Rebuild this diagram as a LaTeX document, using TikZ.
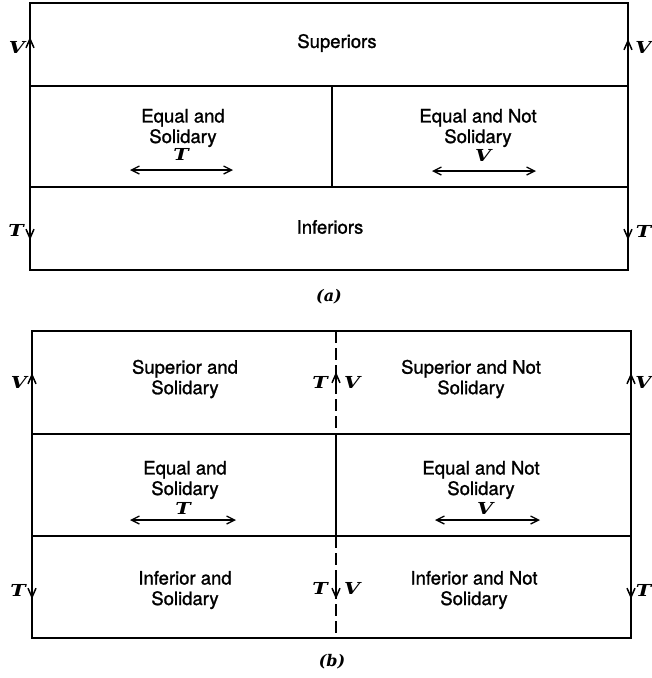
\documentclass[tikz,border=0pt]{standalone}
\usepackage{fontspec}
\usepackage{graphicx}
\setmainfont{TeX Gyre Heros}[FakeBold=1.3]
\newfontfamily\varfont{DejaVu Serif}
\newcommand{\wide}[1]{\scalebox{1.25}[1]{#1}}
\usetikzlibrary{arrows.meta}
\begin{document}
\begin{tikzpicture}[x=1pt,y=-1pt,
  frame/.style={line width=2.5pt},
  inner/.style={line width=2pt},
  dashline/.style={line width=2pt, dash pattern=on 12pt off 5pt},
  lbl/.style={font=\fontsize{18.5}{20.5}\selectfont, align=center, inner sep=0pt},
  var/.style={font=\varfont\bfseries\itshape\fontsize{16.5}{17}\selectfont, inner sep=0pt},
  figcap/.style={font=\varfont\bfseries\itshape\fontsize{16}{16}\selectfont, inner sep=0pt},
  flow/.style={-{Straight Barb[length=9pt,width=8pt,line width=1.5pt]}, line width=1.6pt},
  dbl/.style={{Straight Barb[length=8pt,width=8pt,line width=1.3pt]}-{Straight Barb[length=8pt,width=8pt,line width=1.3pt]}, line width=1.1pt}]
\useasboundingbox (0,0) rectangle (652,678);
% ---------------- (a) ----------------
\coordinate (aTL) at (30,3);
\coordinate (aBR) at (628,270);
\coordinate (aL1) at (30,86);  \coordinate (aR1) at (628,86);
\coordinate (aL2) at (30,187); \coordinate (aR2) at (628,187);
\coordinate (aM1) at (332,86); \coordinate (aM2) at (332,187);
\draw[frame] (aTL) rectangle (aBR);
\draw[inner] (aL1) -- (aR1);
\draw[inner] (aL2) -- (aR2);
\draw[inner] (aM1) -- (aM2);
\node[lbl] (sup) at (337,43) {Superiors};
\node[lbl] (eqs) at (183,128) {Equal and\\Solidary};
\node[lbl] (eqn) at (478,128) {Equal and Not\\Solidary};
\node[lbl] (inf) at (330,227) {Inferiors};
\node[var] (aT) at (181,154) {\wide{T}};
\node[var] (aV) at (483,155) {\wide{V}};
\coordinate (aTa) at (130,170); \coordinate (aTb) at (233,170);
\coordinate (aVa) at (432,171); \coordinate (aVb) at (536,171);
\draw[dbl] (aTa) -- (aTb);
\draw[dbl] (aVa) -- (aVb);
% side arrows (a)
\coordinate (alv0) at (30,56); \coordinate (alv1) at (30,37);
\coordinate (alt0) at (30,220); \coordinate (alt1) at (30,240);
\coordinate (arv0) at (628,58); \coordinate (arv1) at (628,39);
\coordinate (art0) at (628,220); \coordinate (art1) at (628,240);
\draw[flow] (alv0) -- (alv1);
\draw[flow] (alt0) -- (alt1);
\draw[flow] (arv0) -- (arv1);
\draw[flow] (art0) -- (art1);
\node[var] (alV) at (17,47) {\wide{V}};
\node[var] (alT) at (16,230) {\wide{T}};
\node[var, anchor=east] (arV) at (651.5,47) {\wide{V}};
\node[var, anchor=east] (arT) at (651.5,231) {\wide{T}};
\node[figcap] (capa) at (329,297) {(a)};
% ---------------- (b) ----------------
\coordinate (bTL) at (32,331);
\coordinate (bBR) at (631,638);
\coordinate (bL1) at (32,434);  \coordinate (bR1) at (631,434);
\coordinate (bL2) at (32,536);  \coordinate (bR2) at (631,536);
\coordinate (bM0) at (336,331); \coordinate (bM1) at (336,434);
\coordinate (bM2) at (336,536); \coordinate (bM3) at (336,638);
\draw[frame] (bTL) rectangle (bBR);
\draw[inner] (bL1) -- (bR1);
\draw[inner] (bL2) -- (bR2);
\draw[inner] (bM1) -- (bM2);
\draw[dashline] (bM0) -- (bM1);
\draw[dashline] (bM2) -- (bM3);
\node[lbl] (sups) at (185,379) {Superior and\\Solidary};
\node[lbl] (supn) at (471,379) {Superior and Not\\Solidary};
\node[lbl] (beqs) at (185,480) {Equal and\\Solidary};
\node[lbl] (beqn) at (481,480) {Equal and Not\\Solidary};
\node[lbl] (infs) at (185,590) {Inferior and\\Solidary};
\node[lbl] (infn) at (474,590) {Inferior and Not\\Solidary};
\node[var] (bT) at (183,508) {\wide{T}};
\node[var] (bV) at (485,508) {\wide{V}};
\coordinate (bTa) at (130,520); \coordinate (bTb) at (236,520);
\coordinate (bVa) at (435,520); \coordinate (bVb) at (540,520);
\draw[dbl] (bTa) -- (bTb);
\draw[dbl] (bVa) -- (bVb);
% side arrows (b)
\coordinate (blv0) at (32,392); \coordinate (blv1) at (32,373);
\coordinate (blt0) at (32,579); \coordinate (blt1) at (32,599);
\coordinate (brv0) at (631,392); \coordinate (brv1) at (631,373);
\coordinate (brt0) at (631,579); \coordinate (brt1) at (631,599);
\coordinate (bmv0) at (336,391); \coordinate (bmv1) at (336,372);
\coordinate (bmt0) at (336,579); \coordinate (bmt1) at (336,599);
\draw[flow] (blv0) -- (blv1);
\draw[flow] (blt0) -- (blt1);
\draw[flow] (brv0) -- (brv1);
\draw[flow] (brt0) -- (brt1);
\draw[flow] (bmv0) -- (bmv1);
\draw[flow] (bmt0) -- (bmt1);
\node[var] (blV) at (19,382) {\wide{V}};
\node[var] (blT) at (18,590) {\wide{T}};
\node[var, anchor=east] (brV) at (651.5,382) {\wide{V}};
\node[var, anchor=east] (brT) at (651.5,590) {\wide{T}};
\node[var] (bmT1) at (320,382) {\wide{T}};
\node[var] (bmV1) at (352,382) {\wide{V}};
\node[var] (bmT2) at (320,588) {\wide{T}};
\node[var] (bmV2) at (352,588) {\wide{V}};
\node[figcap] (capb) at (332,662) {(b)};
\end{tikzpicture}
\end{document}
